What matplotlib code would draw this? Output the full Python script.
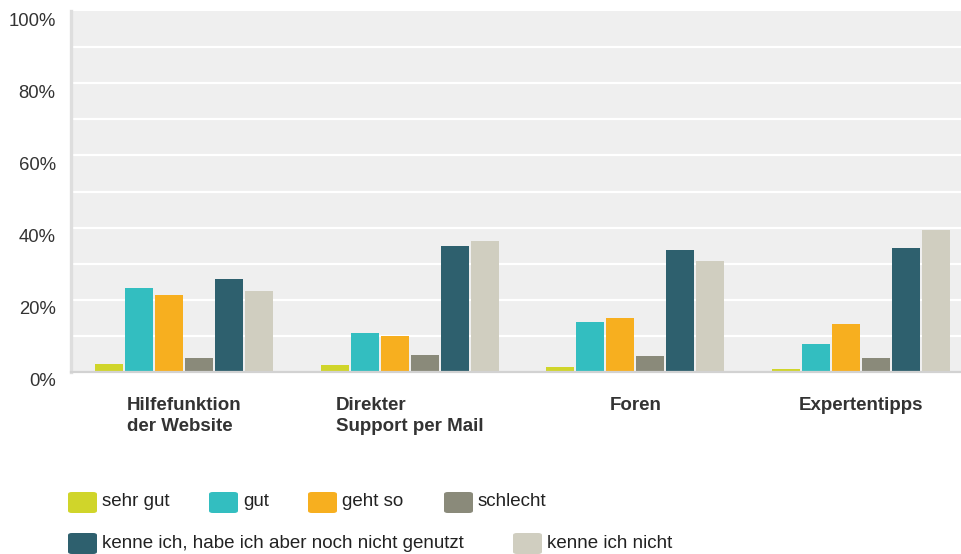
import numpy as np
import matplotlib
matplotlib.use('Agg')
import matplotlib.pyplot as plt
from matplotlib.patches import FancyBboxPatch
from matplotlib.transforms import ScaledTranslation

plt.rcParams['font.family'] = ['Liberation Sans', 'DejaVu Sans']

# data (percent)
categories = ['Hilfefunktion\nder Website', 'Direkter\nSupport per Mail', 'Foren', 'Expertentipps']
series_names = ['sehr gut', 'gut', 'geht so', 'schlecht',
                'kenne ich, habe ich aber noch nicht genutzt', 'kenne ich nicht']
sehr_gut = [2.2, 1.9, 1.4, 0.8]
gut = [23.3, 10.8, 13.9, 7.8]
geht_so = [21.4, 10.0, 15.0, 13.3]
schlecht = [3.9, 4.7, 4.4, 3.9]
kenne_nicht_genutzt = [25.8, 35.0, 33.9, 34.4]
kenne_nicht = [22.5, 36.4, 30.8, 39.4]
series_values = [sehr_gut, gut, geht_so, schlecht, kenne_nicht_genutzt, kenne_nicht]
colors = ['#D0D52A', '#33BEC0', '#F7AF1F', '#8A8A7A', '#2E606E', '#D0CEC0']
ytick_vals = [0, 20, 40, 60, 80, 100]
ytick_labels = ['0%', '20%', '40%', '60%', '80%', '100%']

W, H = 961, 554
fig = plt.figure(figsize=(W / 100, H / 100), dpi=100)
ax = fig.add_axes([71 / W, 1 - 372 / H, (W - 71) / W, (372 - 11) / H])
ax.set_facecolor('#EFEFEF')

grp_px = 225.7
bar_w = 28 / grp_px
pitch = 30 / grp_px
x = np.arange(len(categories))
for i, (vals, col) in enumerate(zip(series_values, colors)):
    ax.bar(x + (i - 2.5) * pitch, vals, width=bar_w, color=col, zorder=3)

ax.set_xlim(-0.5007, (W - 184) / grp_px)
ax.set_ylim(0, 100)

for g in range(10, 100, 10):
    ax.axhline(g, color='white', linewidth=1.6, zorder=1)

for s in ['top', 'right']:
    ax.spines[s].set_visible(False)
ax.spines['left'].set_color('#DEDEDE')
ax.spines['left'].set_linewidth(2.4)
ax.spines['bottom'].set_color('#D2D2D2')
ax.spines['bottom'].set_linewidth(1.6)
ax.spines['bottom'].set_zorder(4)

ax.set_xticks([])
ax.set_yticks(ytick_vals)
ax.set_yticklabels(ytick_labels, fontsize=13.3, color='#333333')
ax.tick_params(axis='y', length=0, pad=11)
off = ScaledTranslation(0, -8 / 100, fig.dpi_scale_trans)
for lab in ax.get_yticklabels():
    lab.set_transform(lab.get_transform() + off)

# category labels
for xi, cat in zip(x, categories):
    ax.text(xi, -(397 - 372) / 361, cat, transform=ax.get_xaxis_transform(),
            ha='center', va='top', multialignment='left', fontsize=13.5,
            fontweight='bold', color='#333333', linespacing=1.3)

# legend
legend_pos = [(68, 492), (209, 492), (308, 492), (444, 492), (68, 533), (513, 533)]
for name, col, (px, py) in zip(series_names, colors, legend_pos):
    p = FancyBboxPatch((px / W, 1 - (py + 21) / H), 29 / W, 21 / H,
                       boxstyle='round,pad=0,rounding_size=0.004',
                       transform=fig.transFigure, facecolor=col, edgecolor='none')
    fig.patches.append(p)
    fig.text((px + 34) / W, 1 - (py + 10) / H, name, fontsize=13.5,
             color='#222222', va='center', ha='left')

fig.savefig('out.png', dpi=100)
